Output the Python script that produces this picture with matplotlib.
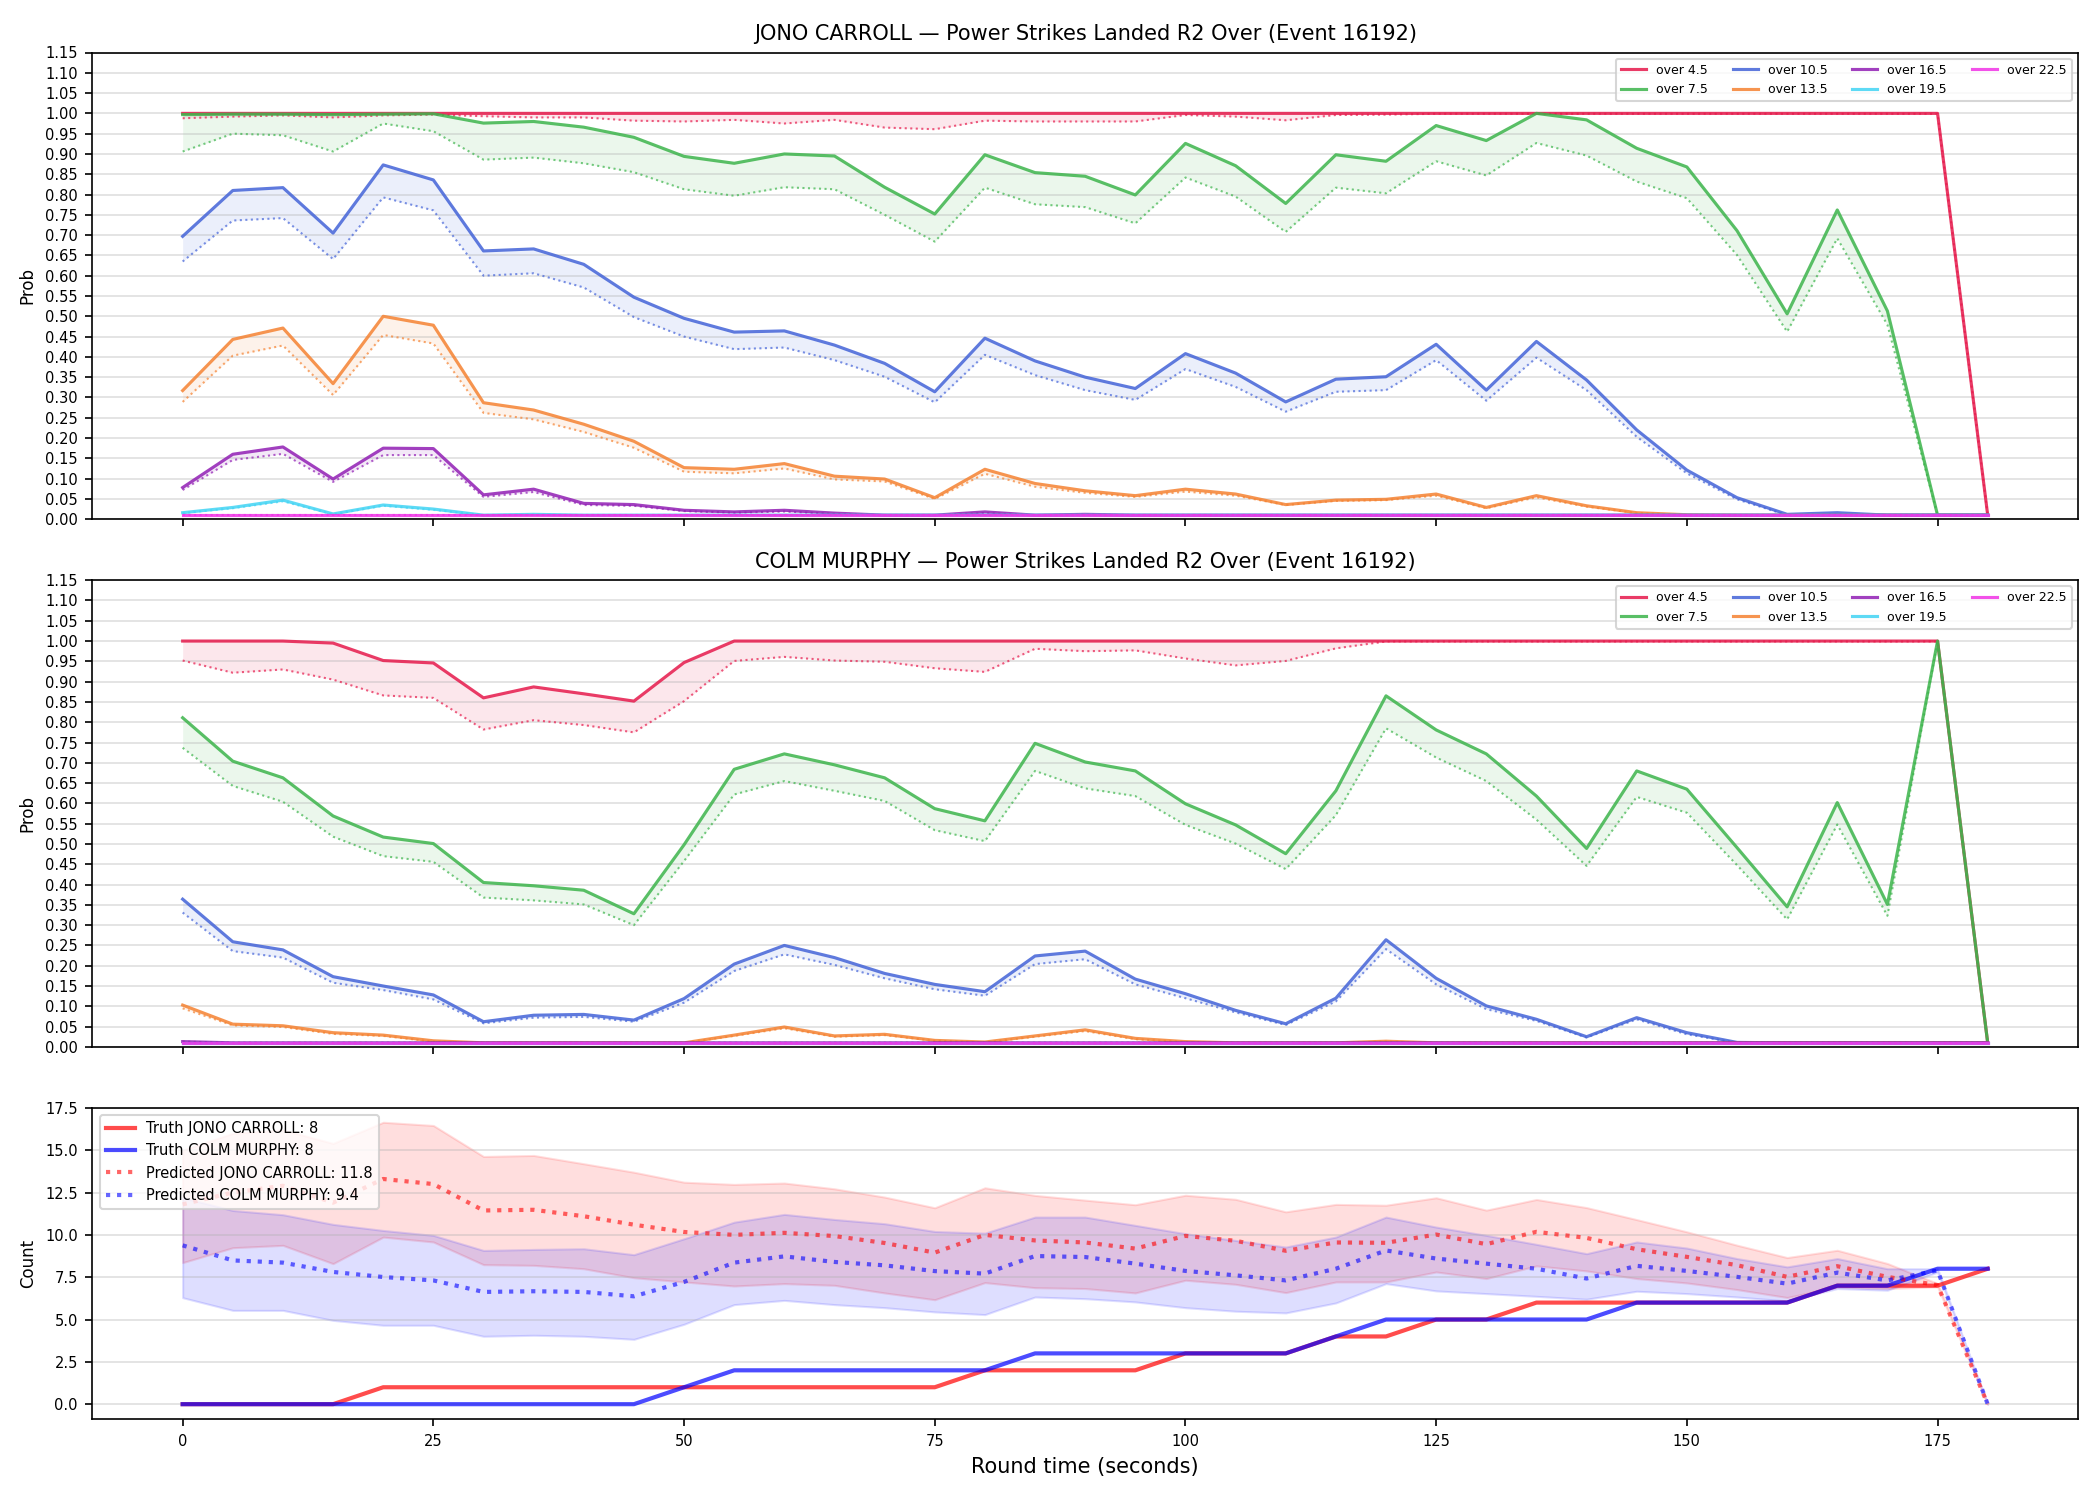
import matplotlib
matplotlib.use("Agg")
import matplotlib.pyplot as plt
import numpy as np

# round time axis (seconds)
times = [0, 5, 10, 15, 20, 25, 30, 35, 40, 45, 50, 55, 60, 65, 70, 75, 80, 85, 90,
         95, 100, 105, 110, 115, 120, 125, 130, 135, 140, 145, 150, 155, 160, 165,
         170, 175, 180]

lines = ["over 4.5", "over 7.5", "over 10.5", "over 13.5", "over 16.5", "over 19.5", "over 22.5"]
line_colors = ["#e6194b", "#3cb44b", "#4363d8", "#f58231", "#911eb4", "#42d4f4", "#f032e6"]

# JONO CARROLL: solid = prob, dotted = lower prob
jono_45 = [1.0, 1.0, 1.0, 1.0, 1.0, 1.0, 1.0, 1.0, 1.0, 1.0, 1.0, 1.0, 1.0, 1.0, 1.0, 1.0, 1.0, 1.0, 1.0,
           1.0, 1.0, 1.0, 1.0, 1.0, 1.0, 1.0, 1.0, 1.0, 1.0, 1.0, 1.0, 1.0, 1.0, 1.0, 1.0, 1.0, 0.01]
jono_45_lo = [0.988, 0.992, 0.995, 0.990, 0.995, 0.997, 0.993, 0.990, 0.990, 0.982, 0.980, 0.984, 0.975,
              0.984, 0.965, 0.961, 0.982, 0.980, 0.980, 0.980, 0.996, 0.992, 0.983, 0.996, 0.997, 0.999,
              0.999, 0.999, 0.999, 0.999, 0.999, 0.999, 0.999, 0.999, 0.999, 0.999, 0.01]
jono_75 = [0.997, 0.998, 0.998, 0.997, 0.998, 0.999, 0.976, 0.980, 0.966, 0.941, 0.894, 0.877, 0.900,
           0.895, 0.818, 0.752, 0.898, 0.854, 0.845, 0.799, 0.926, 0.871, 0.778, 0.898, 0.882, 0.970,
           0.933, 1.0, 0.984, 0.914, 0.868, 0.711, 0.506, 0.762, 0.513, 0.01, 0.01]
jono_75_lo = [0.906, 0.950, 0.946, 0.906, 0.975, 0.956, 0.886, 0.891, 0.877, 0.855, 0.813, 0.797, 0.818,
              0.813, 0.750, 0.684, 0.817, 0.776, 0.769, 0.729, 0.842, 0.795, 0.708, 0.817, 0.803, 0.882,
              0.847, 0.927, 0.896, 0.832, 0.791, 0.651, 0.462, 0.692, 0.479, 0.01, 0.01]
jono_105 = [0.697, 0.810, 0.817, 0.705, 0.873, 0.836, 0.661, 0.666, 0.628, 0.547, 0.495, 0.461, 0.464,
            0.429, 0.384, 0.314, 0.446, 0.390, 0.350, 0.322, 0.408, 0.360, 0.289, 0.345, 0.351, 0.431,
            0.318, 0.438, 0.343, 0.220, 0.121, 0.053, 0.012, 0.016, 0.01, 0.01, 0.01]
jono_105_lo = [0.635, 0.736, 0.742, 0.641, 0.793, 0.761, 0.600, 0.606, 0.571, 0.498, 0.450, 0.419, 0.423,
               0.392, 0.351, 0.288, 0.405, 0.355, 0.318, 0.294, 0.370, 0.326, 0.265, 0.314, 0.318, 0.392,
               0.292, 0.398, 0.318, 0.203, 0.113, 0.049, 0.01, 0.012, 0.01, 0.01, 0.01]
jono_135 = [0.317, 0.443, 0.471, 0.334, 0.500, 0.478, 0.287, 0.269, 0.234, 0.192, 0.127, 0.123, 0.137,
            0.106, 0.099, 0.053, 0.123, 0.088, 0.070, 0.058, 0.074, 0.062, 0.036, 0.047, 0.049, 0.062,
            0.029, 0.058, 0.033, 0.016, 0.011, 0.01, 0.01, 0.01, 0.01, 0.01, 0.01]
jono_135_lo = [0.289, 0.403, 0.428, 0.306, 0.454, 0.433, 0.262, 0.246, 0.215, 0.176, 0.117, 0.113, 0.125,
               0.098, 0.093, 0.050, 0.112, 0.080, 0.065, 0.055, 0.068, 0.058, 0.035, 0.045, 0.047, 0.058,
               0.027, 0.054, 0.031, 0.015, 0.01, 0.01, 0.01, 0.01, 0.01, 0.01, 0.01]
jono_165 = [0.078, 0.160, 0.178, 0.099, 0.175, 0.174, 0.060, 0.074, 0.039, 0.036, 0.022, 0.018, 0.022,
            0.015, 0.01, 0.01, 0.018, 0.01, 0.012, 0.01, 0.01, 0.01, 0.01, 0.01, 0.01, 0.01,
            0.01, 0.01, 0.01, 0.01, 0.01, 0.01, 0.01, 0.01, 0.01, 0.01, 0.01]
jono_165_lo = [0.072, 0.146, 0.161, 0.092, 0.158, 0.158, 0.055, 0.067, 0.035, 0.033, 0.020, 0.016, 0.019,
               0.013, 0.01, 0.01, 0.015, 0.01, 0.011, 0.01, 0.01, 0.01, 0.01, 0.01, 0.01, 0.01,
               0.01, 0.01, 0.01, 0.01, 0.01, 0.01, 0.01, 0.01, 0.01, 0.01, 0.01]
jono_195 = [0.016, 0.029, 0.047, 0.013, 0.035, 0.025, 0.01, 0.012, 0.01, 0.01, 0.01, 0.01, 0.01,
            0.01, 0.01, 0.01, 0.01, 0.01, 0.01, 0.01, 0.01, 0.01, 0.01, 0.01, 0.01, 0.01,
            0.01, 0.01, 0.01, 0.01, 0.01, 0.01, 0.01, 0.01, 0.01, 0.01, 0.01]
jono_195_lo = [0.015, 0.027, 0.044, 0.012, 0.033, 0.023, 0.01, 0.011, 0.01, 0.01, 0.01, 0.01, 0.01,
               0.01, 0.01, 0.01, 0.01, 0.01, 0.01, 0.01, 0.01, 0.01, 0.01, 0.01, 0.01, 0.01,
               0.01, 0.01, 0.01, 0.01, 0.01, 0.01, 0.01, 0.01, 0.01, 0.01, 0.01]
jono_225 = [0.01, 0.01, 0.01, 0.01, 0.01, 0.01, 0.01, 0.01, 0.01, 0.01, 0.01, 0.01, 0.01,
            0.01, 0.01, 0.01, 0.01, 0.01, 0.01, 0.01, 0.01, 0.01, 0.01, 0.01, 0.01, 0.01,
            0.01, 0.01, 0.01, 0.01, 0.01, 0.01, 0.01, 0.01, 0.01, 0.01, 0.01]
jono_225_lo = [0.01, 0.01, 0.01, 0.01, 0.01, 0.01, 0.01, 0.01, 0.01, 0.01, 0.01, 0.01, 0.01,
               0.01, 0.01, 0.01, 0.01, 0.01, 0.01, 0.01, 0.01, 0.01, 0.01, 0.01, 0.01, 0.01,
               0.01, 0.01, 0.01, 0.01, 0.01, 0.01, 0.01, 0.01, 0.01, 0.01, 0.01]

# COLM MURPHY
colm_45 = [1.0, 1.0, 1.0, 0.995, 0.952, 0.946, 0.860, 0.887, 0.870, 0.852, 0.947, 1.0, 1.0, 1.0, 1.0, 1.0,
           1.0, 1.0, 1.0, 1.0, 1.0, 1.0, 1.0, 1.0, 1.0, 1.0, 1.0, 1.0, 1.0, 1.0, 1.0, 1.0, 1.0, 1.0, 1.0,
           1.0, 0.01]
colm_45_lo = [0.952, 0.922, 0.930, 0.905, 0.866, 0.860, 0.782, 0.805, 0.793, 0.775, 0.852, 0.951, 0.961,
              0.952, 0.949, 0.933, 0.924, 0.981, 0.975, 0.977, 0.957, 0.940, 0.951, 0.982, 0.999, 0.999,
              0.999, 0.999, 0.999, 0.999, 0.999, 0.999, 0.999, 0.999, 0.999, 0.999, 0.01]
colm_75 = [0.811, 0.704, 0.663, 0.569, 0.517, 0.501, 0.405, 0.397, 0.386, 0.328, 0.498, 0.684, 0.722,
           0.695, 0.663, 0.587, 0.557, 0.748, 0.702, 0.680, 0.599, 0.547, 0.476, 0.631, 0.865, 0.781,
           0.722, 0.618, 0.489, 0.680, 0.635, 0.491, 0.345, 0.602, 0.351, 1.0, 0.01]
colm_75_lo = [0.737, 0.643, 0.604, 0.518, 0.470, 0.456, 0.368, 0.361, 0.351, 0.300, 0.458, 0.622, 0.655,
              0.631, 0.606, 0.534, 0.507, 0.680, 0.637, 0.618, 0.547, 0.501, 0.438, 0.571, 0.785, 0.713,
              0.655, 0.560, 0.446, 0.616, 0.577, 0.448, 0.314, 0.548, 0.323, 0.999, 0.01]
colm_105 = [0.364, 0.259, 0.239, 0.173, 0.150, 0.128, 0.062, 0.078, 0.080, 0.066, 0.119, 0.204, 0.250,
            0.220, 0.181, 0.154, 0.136, 0.224, 0.236, 0.167, 0.131, 0.090, 0.057, 0.120, 0.264, 0.169,
            0.101, 0.068, 0.025, 0.072, 0.035, 0.011, 0.01, 0.01, 0.01, 0.01, 0.01]
colm_105_lo = [0.331, 0.236, 0.220, 0.158, 0.140, 0.117, 0.058, 0.072, 0.074, 0.062, 0.109, 0.187, 0.228,
               0.202, 0.169, 0.142, 0.126, 0.204, 0.216, 0.154, 0.120, 0.085, 0.054, 0.112, 0.241, 0.154,
               0.093, 0.064, 0.023, 0.068, 0.031, 0.01, 0.01, 0.01, 0.01, 0.01, 0.01]
colm_135 = [0.103, 0.056, 0.052, 0.035, 0.029, 0.015, 0.01, 0.01, 0.01, 0.01, 0.01, 0.029, 0.049,
            0.027, 0.031, 0.016, 0.012, 0.027, 0.042, 0.021, 0.013, 0.01, 0.01, 0.01, 0.014, 0.01,
            0.01, 0.01, 0.01, 0.01, 0.01, 0.01, 0.01, 0.01, 0.01, 0.01, 0.01]
colm_135_lo = [0.095, 0.053, 0.049, 0.032, 0.027, 0.013, 0.01, 0.01, 0.01, 0.01, 0.01, 0.027, 0.046,
               0.025, 0.029, 0.015, 0.011, 0.025, 0.039, 0.019, 0.012, 0.01, 0.01, 0.01, 0.013, 0.01,
               0.01, 0.01, 0.01, 0.01, 0.01, 0.01, 0.01, 0.01, 0.01, 0.01, 0.01]
colm_165 = [0.013, 0.01, 0.01, 0.01, 0.01, 0.01, 0.01, 0.01, 0.01, 0.01, 0.01, 0.01, 0.01,
            0.01, 0.01, 0.01, 0.01, 0.01, 0.01, 0.01, 0.01, 0.01, 0.01, 0.01, 0.01, 0.01,
            0.01, 0.01, 0.01, 0.01, 0.01, 0.01, 0.01, 0.01, 0.01, 0.01, 0.01]
colm_165_lo = colm_165
colm_195 = jono_225
colm_195_lo = jono_225
colm_225 = jono_225
colm_225_lo = jono_225

# bottom panel: counts
truth_jono = [0, 0, 0, 0, 1, 1, 1, 1, 1, 1, 1, 1, 1, 1, 1, 1, 2, 2, 2, 2, 3, 3, 3, 4, 4, 5, 5,
              6, 6, 6, 6, 6, 6, 7, 7, 7, 8]
truth_colm = [0, 0, 0, 0, 0, 0, 0, 0, 0, 0, 1, 2, 2, 2, 2, 2, 2, 3, 3, 3, 3, 3, 3, 4, 5, 5, 5,
              5, 5, 6, 6, 6, 6, 7, 7, 8, 8]
pred_jono = [11.8, 12.5, 12.9, 11.9, 13.3, 13.0, 11.44, 11.48, 11.1, 10.6, 10.17, 10.0, 10.12, 9.93,
             9.52, 8.95, 10.0, 9.67, 9.55, 9.19, 9.94, 9.65, 9.06, 9.55, 9.53, 10.02, 9.45, 10.18,
             9.82, 9.15, 8.70, 8.21, 7.52, 8.15, 7.52, 7.03, 0.0]
pred_jono_hi = [15.0, 16.0, 16.2, 15.4, 16.65, 16.46, 14.63, 14.69, 14.2, 13.7, 13.11, 12.98, 13.06,
                12.72, 12.23, 11.6, 12.78, 12.33, 12.05, 11.78, 12.34, 12.1, 11.36, 11.8, 11.75, 12.19,
                11.46, 12.09, 11.61, 10.9, 10.18, 9.39, 8.66, 9.09, 8.31, 7.13, 0.0]
pred_jono_lo = [8.36, 9.24, 9.38, 8.3, 9.87, 9.58, 8.24, 8.2, 8.0, 7.47, 7.22, 6.98, 7.12, 7.02, 6.57,
                6.17, 7.18, 6.88, 6.83, 6.57, 7.32, 7.08, 6.59, 7.22, 7.22, 7.81, 7.42, 8.17, 7.87, 7.42,
                7.16, 6.77, 6.30, 6.93, 6.83, 6.93, 0.0]
pred_colm = [9.38, 8.49, 8.36, 7.81, 7.51, 7.31, 6.63, 6.67, 6.63, 6.37, 7.22, 8.36, 8.73, 8.4, 8.2,
             7.86, 7.71, 8.75, 8.69, 8.3, 7.87, 7.61, 7.31, 8.0, 9.08, 8.6, 8.3, 8.0, 7.42, 8.17, 7.87,
             7.52, 7.12, 7.77, 7.31, 7.9, 0.0]
pred_colm_hi = [12.2, 11.44, 11.19, 10.62, 10.26, 9.97, 9.08, 9.14, 9.18, 8.83, 9.77, 10.75, 11.21,
                10.91, 10.66, 10.2, 10.1, 11.05, 11.05, 10.56, 10.07, 9.67, 9.28, 9.87, 11.05, 10.46,
                9.97, 9.44, 8.89, 9.58, 9.22, 8.6, 8.11, 8.6, 8.0, 8.0, 0.0]
pred_colm_lo = [6.29, 5.54, 5.54, 4.95, 4.66, 4.66, 4.01, 4.07, 4.01, 3.83, 4.72, 5.88, 6.13, 5.88,
                5.70, 5.45, 5.29, 6.33, 6.23, 6.04, 5.70, 5.49, 5.39, 5.98, 7.12, 6.69, 6.53, 6.37, 6.2,
                6.67, 6.53, 6.33, 6.1, 6.83, 6.73, 7.8, 0.0]

jono_series = [(jono_45, jono_45_lo), (jono_75, jono_75_lo), (jono_105, jono_105_lo),
               (jono_135, jono_135_lo), (jono_165, jono_165_lo), (jono_195, jono_195_lo),
               (jono_225, jono_225_lo)]
colm_series = [(colm_45, colm_45_lo), (colm_75, colm_75_lo), (colm_105, colm_105_lo),
               (colm_135, colm_135_lo), (colm_165, colm_165_lo), (colm_195, colm_195_lo),
               (colm_225, colm_225_lo)]

fig, axes = plt.subplots(3, 1, figsize=(14, 10), dpi=150, sharex=True,
                         gridspec_kw={"height_ratios": [3, 3, 2]})
fig.subplots_adjust(left=0.044, right=0.9895, top=0.965, bottom=0.054, hspace=0.147)


def draw_prob_panel(ax, series, fighter):
    for name, color, (p, lo) in zip(lines, line_colors, series):
        ax.plot(times, p, color=color, lw=1.5, alpha=0.85, label=name)
        ax.plot(times, lo, color=color, lw=1.0, ls=":", alpha=0.7)
        ax.fill_between(times, lo, p, color=color, alpha=0.1, lw=0)
    ax.set_ylim(0, 1.15)
    ax.set_yticks(np.arange(0, 1.1501, 0.05))
    ax.yaxis.set_major_formatter(matplotlib.ticker.FormatStrFormatter("%.2f"))
    ax.set_ylabel("Prob", fontsize=8)
    ax.set_title(f"{fighter} \u2014 Power Strikes Landed R2 Over (Event 16192)", fontsize=10)
    ax.grid(axis="y", alpha=0.4)
    ax.tick_params(labelsize=7)
    ax.legend(loc="upper right", ncol=4, fontsize=6)


draw_prob_panel(axes[0], jono_series, "JONO CARROLL")
draw_prob_panel(axes[1], colm_series, "COLM MURPHY")

ax = axes[2]
ax.plot(times, truth_jono, color="red", lw=2, alpha=0.7, label=f"Truth JONO CARROLL: {truth_jono[-1]}")
ax.plot(times, truth_colm, color="blue", lw=2, alpha=0.7, label=f"Truth COLM MURPHY: {truth_colm[-1]}")
ax.plot(times, pred_jono, color="red", lw=2, ls=":", alpha=0.6,
        label=f"Predicted JONO CARROLL: {pred_jono[0]:.1f}")
ax.fill_between(times, pred_jono_lo, pred_jono_hi, color="red", alpha=0.13)
ax.plot(times, pred_colm, color="blue", lw=2, ls=":", alpha=0.6,
        label=f"Predicted COLM MURPHY: {pred_colm[0]:.1f}")
ax.fill_between(times, pred_colm_lo, pred_colm_hi, color="blue", alpha=0.13)
ax.set_ylim(-0.875, 17.5)
ax.set_yticks(np.arange(0, 17.6, 2.5))
ax.set_ylabel("Count", fontsize=8)
ax.set_xlabel("Round time (seconds)", fontsize=10)
ax.grid(axis="y", alpha=0.4)
ax.tick_params(labelsize=7)
ax.legend(loc="upper left", fontsize=7)

fig.savefig("out.png", dpi=150)
